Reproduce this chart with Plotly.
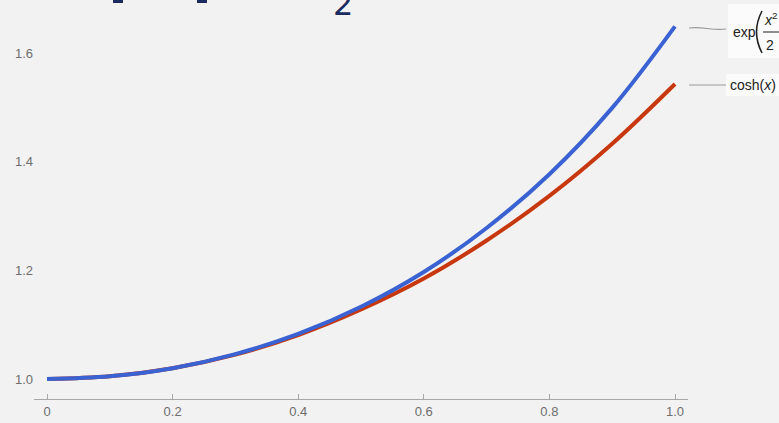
import plotly.graph_objects as go

x_vals = [0.0, 0.1, 0.2, 0.3, 0.4, 0.5, 0.6, 0.7, 0.8, 0.9, 1.0]
exp_vals = [1.000, 1.005, 1.020, 1.046, 1.083, 1.133, 1.197, 1.278, 1.377, 1.499, 1.649]
cosh_vals = [1.000, 1.005, 1.020, 1.045, 1.081, 1.128, 1.185, 1.255, 1.337, 1.433, 1.543]
x_ticks = [0, 0.2, 0.4, 0.6, 0.8, 1.0]
x_tick_labels = ["0", "0.2", "0.4", "0.6", "0.8", "1.0"]
y_ticks = [1.0, 1.2, 1.4, 1.6]
y_tick_labels = ["1.0", "1.2", "1.4", "1.6"]

W, H = 779, 423
L, R, T, B = 34, 688, 0, 399  # plot area in pixels


def px(xp):
    return (xp - L) / (R - L)


def py(yp):
    return (B - yp) / (B - T)


fig = go.Figure()
fig.add_trace(go.Scatter(x=x_vals, y=cosh_vals, mode="lines",
                         line=dict(color="#c8380e", width=4, shape="spline"),
                         hoverinfo="skip", showlegend=False))
fig.add_trace(go.Scatter(x=x_vals, y=exp_vals, mode="lines",
                         line=dict(color="#3a62d2", width=4, shape="spline"),
                         hoverinfo="skip", showlegend=False))

font_tick = dict(family="Liberation Sans, Arial, sans-serif", size=13, color="#6e6e6e")
navy = "#1c2b5e"

shapes = [
    # label boxes
    dict(type="rect", xref="paper", yref="paper", x0=px(728), x1=px(780), y0=py(58), y1=py(4),
         fillcolor="#fbfbfb", line=dict(width=0), layer="below"),
    dict(type="rect", xref="paper", yref="paper", x0=px(726), x1=px(780), y0=py(96), y1=py(74),
         fillcolor="#fbfbfb", line=dict(width=0), layer="below"),
    # leader lines
    dict(type="path", xref="paper", yref="paper",
         path=f"M {px(689)},{py(28)} C {px(702)},{py(26)} {px(712)},{py(31)} {px(726)},{py(29)}",
         line=dict(color="#9a9a9a", width=1.2)),
    dict(type="line", xref="paper", yref="paper", x0=px(689), x1=px(726), y0=py(85), y1=py(85),
         line=dict(color="#9a9a9a", width=1.2)),
    # tall parenthesis of exp( ... )
    dict(type="path", xref="paper", yref="paper",
         path=f"M {px(762)},{py(11)} Q {px(751)},{py(32)} {px(762)},{py(53)}",
         line=dict(color="#222222", width=1.6)),
    # fraction bar
    dict(type="line", xref="paper", yref="paper", x0=px(763), x1=px(779), y0=py(32), y1=py(32),
         line=dict(color="#222222", width=1)),
    # cropped bracket bottoms of title
    dict(type="rect", xref="paper", yref="paper", x0=px(113), x1=px(123), y0=py(3), y1=py(0),
         fillcolor=navy, line=dict(width=0)),
    dict(type="rect", xref="paper", yref="paper", x0=px(197), x1=px(207), y0=py(3), y1=py(0),
         fillcolor=navy, line=dict(width=0)),
]

lab_font = dict(family="Liberation Sans, Arial, sans-serif", size=14, color="#222222")
annotations = [
    dict(text="exp", x=px(731), y=py(32), xref="paper", yref="paper", xanchor="left", yanchor="middle",
         showarrow=False, font=lab_font),
    dict(text="<i>x</i><sup>2</sup>", x=px(770), y=py(19), xref="paper", yref="paper", xanchor="center",
         yanchor="middle", showarrow=False, font=dict(family="Liberation Sans, Arial, sans-serif", size=14,
                                                      color="#222222")),
    dict(text="2", x=px(770), y=py(45), xref="paper", yref="paper", xanchor="center", yanchor="middle",
         showarrow=False, font=lab_font),
    dict(text="cosh(<i>x</i>)", x=px(728), y=py(85), xref="paper", yref="paper", xanchor="left",
         yanchor="middle", showarrow=False, font=lab_font),
    # cropped title fragment (cut off at the top, as in the reference)
    dict(text="2", x=px(343), y=py(4), xref="paper", yref="paper", xanchor="center", yanchor="middle",
         showarrow=False, font=dict(family="DejaVu Sans, sans-serif", size=32, color=navy)),
]

fig.update_layout(
    width=W, height=H,
    margin=dict(l=L, r=W - R, t=T, b=H - B, pad=0),
    paper_bgcolor="#f2f2f2", plot_bgcolor="#f2f2f2",
    shapes=shapes, annotations=annotations,
    xaxis=dict(range=[-0.0207, 1.0207], tickvals=x_ticks, ticktext=x_tick_labels,
               showgrid=False, zeroline=False, showline=True, linecolor="#a8a8a8", linewidth=1.2,
               ticks="inside", ticklen=5, tickcolor="#a8a8a8", tickfont=font_tick),
    yaxis=dict(range=[0.9633, 1.6975], tickvals=y_ticks, ticktext=y_tick_labels,
               showgrid=False, zeroline=False, showline=False, ticks="",
               tickfont=font_tick),
)

fig.write_html("out.html", config={"displayModeBar": False},
               post_script="document.body.style.margin='0';document.body.style.background='#f2f2f2';")
